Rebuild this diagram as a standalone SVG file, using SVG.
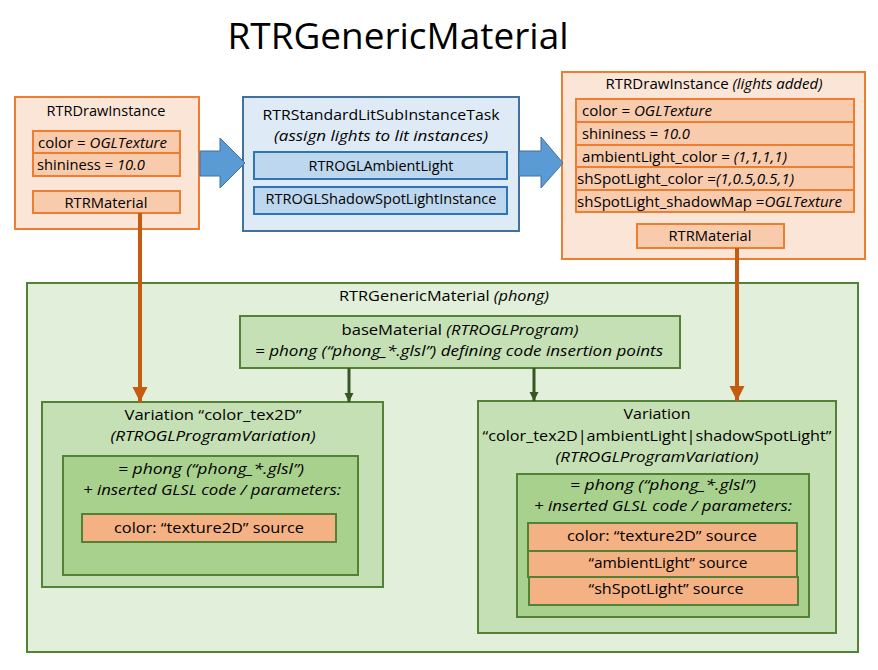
<svg xmlns="http://www.w3.org/2000/svg" width="878" height="670" viewBox="0 0 878 670">
<defs>
<style>
text{font-family:"Open Sans","Liberation Sans",sans-serif;font-size:15px;fill:#000;text-anchor:middle}
.l{text-anchor:start}
.i{font-style:italic}
.title{font-size:36px}
.oOut{fill:#FBE5D6;stroke:#ED7D31;stroke-width:2}
.oIn{fill:#F8CBAD;stroke:#ED7D31;stroke-width:2}
.bOut{fill:#DEEBF7;stroke:#41719C;stroke-width:2}
.bIn{fill:#BDD7EE;stroke:#2E75B6;stroke-width:2}
.g0{fill:#E2EFDA;stroke:#538135;stroke-width:2}
.g1{fill:#C5E0B4;stroke:#538135;stroke-width:2}
.g2{fill:#A9D18E;stroke:#538135;stroke-width:2}
.src{fill:#F4B183;stroke:#538135;stroke-width:2}
.fat{fill:#5B9BD5;stroke:#41719C;stroke-width:1}
.or{stroke:#C55A11;stroke-width:4;fill:none}
.dg{stroke:#375623;stroke-width:3;fill:none}
</style>
<marker id="ao" markerUnits="userSpaceOnUse" markerWidth="16" markerHeight="16" refX="15" refY="7.5" orient="auto"><path d="M0,0 L15,7.5 L0,15 z" fill="#C55A11"/></marker>
<marker id="ag" markerUnits="userSpaceOnUse" markerWidth="10" markerHeight="10" refX="9" refY="4.5" orient="auto"><path d="M0,0 L9,4.5 L0,9 z" fill="#375623"/></marker>
</defs>
<text class="title" x="398" y="49" textLength="341" lengthAdjust="spacingAndGlyphs">RTRGenericMaterial</text>

<g id="generic">
<rect class="g0" x="27" y="283" width="831" height="369"/>
<text x="444" y="301" textLength="210" lengthAdjust="spacingAndGlyphs">RTRGenericMaterial <tspan class="i">(phong)</tspan></text>
</g>

<g id="drawInstance">
<rect class="oOut" x="15" y="97" width="184" height="132"/>
<text x="106" y="116" textLength="119" lengthAdjust="spacingAndGlyphs">RTRDrawInstance</text>
<rect class="oIn" x="33" y="131" width="147" height="22"/>
<text class="l" x="38" y="148" textLength="129" lengthAdjust="spacingAndGlyphs">color = <tspan class="i">OGLTexture</tspan></text>
<rect class="oIn" x="33" y="153" width="147" height="23"/>
<text class="l" x="37" y="170" textLength="108" lengthAdjust="spacingAndGlyphs">shininess = <tspan class="i">10.0</tspan></text>
<rect class="oIn" x="33" y="191" width="147" height="22"/>
<text x="106" y="208" textLength="83" lengthAdjust="spacingAndGlyphs">RTRMaterial</text>
</g>

<g id="task">
<rect class="bOut" x="243" y="97" width="276" height="134"/>
<text x="381" y="120" textLength="237" lengthAdjust="spacingAndGlyphs">RTRStandardLitSubInstanceTask</text>
<text class="i" x="381" y="141" textLength="214" lengthAdjust="spacingAndGlyphs">(assign lights to lit instances)</text>
<rect class="bIn" x="254" y="152" width="253" height="27"/>
<text x="381" y="171" textLength="145" lengthAdjust="spacingAndGlyphs">RTROGLAmbientLight</text>
<rect class="bIn" x="254" y="187" width="253" height="27"/>
<text x="381" y="204" textLength="231" lengthAdjust="spacingAndGlyphs">RTROGLShadowSpotLightInstance</text>
</g>

<g id="drawInstanceLit">
<rect class="oOut" x="562" y="72" width="303" height="187"/>
<text x="714" y="89" textLength="217" lengthAdjust="spacingAndGlyphs">RTRDrawInstance <tspan class="i">(lights added)</tspan></text>
<rect class="oIn" x="576" y="99" width="278" height="23"/>
<text class="l" x="582" y="116" textLength="130" lengthAdjust="spacingAndGlyphs">color = <tspan class="i">OGLTexture</tspan></text>
<rect class="oIn" x="576" y="122" width="278" height="23"/>
<text class="l" x="582" y="139" textLength="108" lengthAdjust="spacingAndGlyphs">shininess = <tspan class="i">10.0</tspan></text>
<rect class="oIn" x="576" y="145" width="278" height="22"/>
<text class="l" x="582" y="162" textLength="205" lengthAdjust="spacingAndGlyphs">ambientLight_color = <tspan class="i">(1,1,1,1)</tspan></text>
<rect class="oIn" x="576" y="167" width="278" height="23"/>
<text class="l" x="577" y="184" textLength="217" lengthAdjust="spacingAndGlyphs">shSpotLight_color =<tspan class="i">(1,0.5,0.5,1)</tspan></text>
<rect class="oIn" x="576" y="190" width="278" height="22"/>
<text class="l" x="577" y="207" textLength="265" lengthAdjust="spacingAndGlyphs">shSpotLight_shadowMap =<tspan class="i">OGLTexture</tspan></text>
<rect class="oIn" x="637" y="224" width="147" height="24"/>
<text x="710" y="241" textLength="83" lengthAdjust="spacingAndGlyphs">RTRMaterial</text>
</g>

<g id="baseMaterial">
<rect class="g1" x="240" y="316" width="440" height="52"/>
<text x="460" y="335" textLength="237" lengthAdjust="spacingAndGlyphs">baseMaterial <tspan class="i">(RTROGLProgram)</tspan></text>
<text class="i" x="459" y="356" textLength="408" lengthAdjust="spacingAndGlyphs">= phong (“phong_*.glsl”) defining code insertion points</text>
</g>

<g id="variationLeft">
<rect class="g1" x="42" y="402" width="341" height="185"/>
<text x="213" y="420" textLength="177" lengthAdjust="spacingAndGlyphs">Variation “color_tex2D”</text>
<text class="i" x="213" y="441" textLength="205" lengthAdjust="spacingAndGlyphs">(RTROGLProgramVariation)</text>
<rect class="g2" x="63" y="456" width="295" height="119"/>
<text class="i" x="211" y="474" textLength="186" lengthAdjust="spacingAndGlyphs">= phong (“phong_*.glsl”)</text>
<text class="i" x="212" y="495" textLength="258" lengthAdjust="spacingAndGlyphs">+ inserted GLSL code / parameters:</text>
<rect class="src" x="82" y="514" width="254" height="28"/>
<text x="209" y="533" textLength="190" lengthAdjust="spacingAndGlyphs">color: “texture2D” source</text>
</g>

<g id="variationRight">
<rect class="g1" x="478" y="401" width="358" height="232"/>
<text x="657" y="419" textLength="67" lengthAdjust="spacingAndGlyphs">Variation</text>
<text x="657" y="441" textLength="349" lengthAdjust="spacingAndGlyphs">“color_tex2D|ambientLight|shadowSpotLight”</text>
<text class="i" x="657" y="462" textLength="203" lengthAdjust="spacingAndGlyphs">(RTROGLProgramVariation)</text>
<rect class="g2" x="517" y="474" width="292" height="143"/>
<text class="i" x="663" y="490" textLength="186" lengthAdjust="spacingAndGlyphs">= phong (“phong_*.glsl”)</text>
<text class="i" x="663" y="511" textLength="258" lengthAdjust="spacingAndGlyphs">+ inserted GLSL code / parameters:</text>
<rect class="src" x="528" y="523" width="269" height="28"/>
<text x="662" y="541" textLength="190" lengthAdjust="spacingAndGlyphs">color: “texture2D” source</text>
<rect class="src" x="528" y="551" width="269" height="26"/>
<text x="668" y="568" textLength="159" lengthAdjust="spacingAndGlyphs">“ambientLight” source</text>
<rect class="src" x="529" y="577" width="269" height="28"/>
<text x="666" y="594" textLength="155" lengthAdjust="spacingAndGlyphs">“shSpotLight” source</text>
</g>

<g id="connectors">
<path class="fat" d="M200,151 L220,151 L220,138 L245,163 L220,188 L220,176 L200,176 z"/>
<path class="fat" d="M519,151 L541,151 L541,137 L563,163 L541,188 L541,176 L519,176 z"/>
<path class="or" d="M140,213 L140,402" marker-end="url(#ao)"/>
<path class="or" d="M737,248 L737,401" marker-end="url(#ao)"/>
<path class="dg" d="M349,368 L349,402" marker-end="url(#ag)"/>
<path class="dg" d="M534,368 L534,401" marker-end="url(#ag)"/>
</g>
</svg>
